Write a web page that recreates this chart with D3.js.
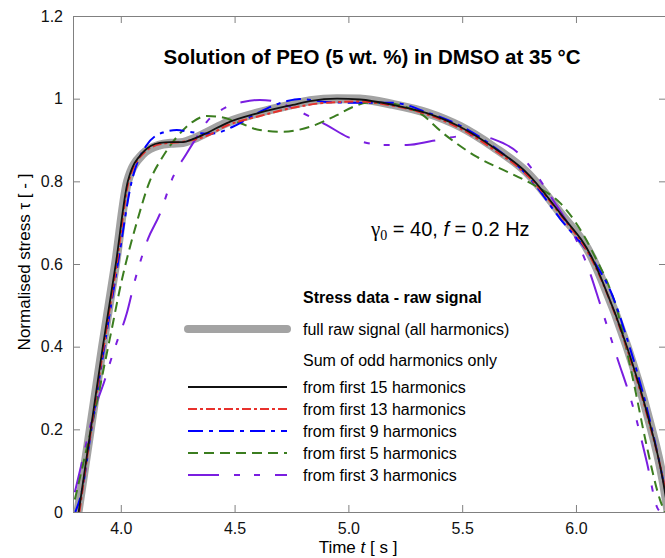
<!DOCTYPE html>
<html>
<head>
<meta charset="utf-8">
<script src="https://cdn.jsdelivr.net/npm/d3@7"></script>
<style>
  body { margin: 0; background: #fff; }
  text { font-family: "Liberation Sans", Arial, sans-serif; }
</style>
</head>
<body>
<svg id="chart" width="665" height="558"></svg>
<script>
// values (time t [s], normalised stress)
const xTicks = [4.0, 4.5, 5.0, 5.5, 6.0]
const yTicks = [0, 0.2, 0.4, 0.6, 0.8, 1, 1.2]

const rawT = [3.812, 3.866, 3.92, 3.977, 4.03, 4.097, 4.171, 4.22, 4.273, 4.316, 4.378, 4.466, 4.611, 4.756, 4.831, 4.95, 5.05, 5.196, 5.345, 5.49, 5.635, 5.785, 5.93, 6.075, 6.114, 6.224, 6.312, 6.382, 6.405]
const rawY = [0, 0.2, 0.4, 0.6, 0.8, 0.866, 0.888, 0.892, 0.894, 0.902, 0.918, 0.942, 0.967, 0.986, 0.995, 1.0, 0.999, 0.986, 0.966, 0.933, 0.884, 0.821, 0.724, 0.611, 0.562, 0.401, 0.241, 0.078, 0]

const h15T = [3.815, 3.868, 3.921, 3.978, 4.031, 4.097, 4.171, 4.22, 4.273, 4.316, 4.378, 4.466, 4.611, 4.756, 4.831, 4.95, 5.05, 5.196, 5.345, 5.49, 5.635, 5.785, 5.93, 6.075, 6.114, 6.224, 6.312, 6.382, 6.405]
const h15Y = [0, 0.2, 0.4, 0.6, 0.8, 0.87, 0.893, 0.895, 0.895, 0.902, 0.917, 0.941, 0.966, 0.985, 0.994, 1.0, 0.998, 0.985, 0.965, 0.932, 0.883, 0.82, 0.723, 0.61, 0.561, 0.4, 0.24, 0.077, 0]

const h13T = [3.818, 3.87, 3.925, 3.982, 4.035, 4.1, 4.175, 4.273, 4.378, 4.466, 4.611, 4.756, 4.9, 5.05, 5.196, 5.345, 5.49, 5.635, 5.785, 5.93, 6.075, 6.224, 6.312, 6.39, 6.41]
const h13Y = [0, 0.2, 0.4, 0.6, 0.8, 0.868, 0.89, 0.896, 0.91, 0.935, 0.958, 0.978, 0.99, 0.993, 0.983, 0.962, 0.928, 0.878, 0.815, 0.72, 0.605, 0.395, 0.235, 0.06, 0]

const h9T = [3.8, 3.829, 3.868, 3.925, 3.987, 4.048, 4.11, 4.185, 4.246, 4.3, 4.378, 4.422, 4.492, 4.611, 4.73, 4.787, 4.905, 5.051, 5.196, 5.345, 5.49, 5.635, 5.785, 5.93, 6.075, 6.163, 6.224, 6.312, 6.382, 6.41]
const h9Y = [0, 0.05, 0.19, 0.39, 0.6, 0.8, 0.885, 0.918, 0.924, 0.92, 0.915, 0.917, 0.932, 0.968, 0.994, 0.999, 0.992, 0.99, 0.99, 0.967, 0.935, 0.885, 0.815, 0.71, 0.61, 0.52, 0.42, 0.25, 0.08, 0]

const h5T = [3.798, 3.877, 3.952, 4.004, 4.07, 4.127, 4.185, 4.246, 4.316, 4.378, 4.435, 4.523, 4.611, 4.712, 4.831, 4.949, 5.02, 5.08, 5.15, 5.25, 5.314, 5.415, 5.565, 5.71, 5.829, 5.93, 6.075, 6.185, 6.251, 6.312, 6.369, 6.39]
const h5Y = [0.03, 0.22, 0.42, 0.56, 0.7, 0.8, 0.86, 0.907, 0.944, 0.958, 0.956, 0.941, 0.924, 0.92, 0.932, 0.96, 0.98, 0.99, 0.99, 0.98, 0.965, 0.917, 0.859, 0.82, 0.787, 0.748, 0.627, 0.48, 0.32, 0.157, 0.03, 0]

const h3T = [3.798, 3.829, 3.886, 3.93, 3.952, 3.982, 4.026, 4.062, 4.119, 4.171, 4.229, 4.29, 4.334, 4.378, 4.448, 4.536, 4.611, 4.686, 4.8, 4.905, 4.998, 5.064, 5.152, 5.257, 5.371, 5.5, 5.58, 5.622, 5.741, 5.811, 5.899, 5.987, 6.062, 6.105, 6.18, 6.251, 6.312, 6.356, 6.37]
const h3Y = [0.048, 0.12, 0.25, 0.32, 0.36, 0.41, 0.48, 0.56, 0.66, 0.72, 0.81, 0.868, 0.907, 0.944, 0.975, 0.992, 0.997, 0.992, 0.965, 0.936, 0.907, 0.895, 0.888, 0.888, 0.898, 0.91, 0.912, 0.905, 0.871, 0.827, 0.755, 0.675, 0.578, 0.505, 0.375, 0.254, 0.119, 0.012, 0]

const series = [
  { name: "full raw signal (all harmonics)", t: rawT, y: rawY, color: "#a3a3a3", width: 9, dash: null },
  { name: "from first 3 harmonics", t: h3T, y: h3Y, color: "#7a1ee0", width: 2, dash: "31,15,6,14,6,15" },
  { name: "from first 5 harmonics", t: h5T, y: h5Y, color: "#3b7d1f", width: 2, dash: "10,6" },
  { name: "from first 9 harmonics", t: h9T, y: h9Y, color: "#0000ff", width: 2, dash: "15,6,4,6" },
  { name: "from first 13 harmonics", t: h13T, y: h13Y, color: "#e8312c", width: 2, dash: "9,3,3,3" },
  { name: "from first 15 harmonics", t: h15T, y: h15Y, color: "#111111", width: 1.8, dash: null }
]

const svg = d3.select("#chart")
const plotL = 73, plotR = 667, plotT = 16, plotB = 512

const x = d3.scaleLinear().domain([3.79, 6.4]).range([plotL, plotR])
const y = d3.scaleLinear().domain([0, 1.2]).range([plotB, plotT])

const axisColor = "#808080"

// frame with inward ticks on all sides
svg.append("g").attr("transform", "translate(0," + plotB + ")")
  .call(d3.axisBottom(x).tickValues(xTicks).tickSizeInner(-7).tickSizeOuter(0).tickPadding(11).tickFormat(d3.format(".1f")))
svg.append("g").attr("transform", "translate(0," + plotT + ")")
  .call(d3.axisTop(x).tickValues(xTicks).tickSizeInner(-7).tickSizeOuter(0).tickFormat(""))
svg.append("g").attr("transform", "translate(" + plotL + ",0)")
  .call(d3.axisLeft(y).tickValues(yTicks).tickSizeInner(-7).tickSizeOuter(0).tickPadding(10).tickFormat(d => d === 0 || d === 1 ? d : d3.format(".1f")(d)))
svg.append("g").attr("transform", "translate(" + (plotR - 1) + ",0)")
  .call(d3.axisRight(y).tickValues(yTicks).tickSizeInner(-7).tickSizeOuter(0).tickFormat(""))

svg.selectAll(".domain").attr("stroke", axisColor)
svg.selectAll(".tick line").attr("stroke", axisColor)
svg.selectAll(".tick text").attr("fill", "#111").style("font-size", "16px")

svg.append("defs").append("clipPath").attr("id", "plotclip")
  .append("rect").attr("x", plotL).attr("y", plotT).attr("width", plotR - plotL).attr("height", plotB - plotT)

const line = d3.line()
  .x(d => x(d[0]))
  .y(d => y(d[1]))
  .curve(d3.curveMonotoneX)

const plot = svg.append("g").attr("clip-path", "url(#plotclip)")

plot.selectAll("path.curve")
  .data(series)
  .enter()
  .append("path")
  .attr("class", "curve")
  .attr("d", s => line(s.t.map((t, i) => [t, s.y[i]])))
  .attr("fill", "none")
  .attr("stroke", s => s.color)
  .attr("stroke-width", s => s.width)
  .attr("stroke-linecap", s => s.width > 5 ? "round" : "butt")
  .attr("stroke-dasharray", s => s.dash)

// title
svg.append("text")
  .attr("x", 372).attr("y", 64)
  .attr("text-anchor", "middle")
  .style("font-size", "20.5px").style("font-weight", "bold")
  .text("Solution of PEO (5 wt. %) in DMSO at 35 °C")

// conditions
let cond = svg.append("text").attr("x", 371).attr("y", 236).style("font-size", "20px")
cond.append("tspan").style("font-family", "'Liberation Serif', 'Times New Roman', serif").style("font-size", "21px").text("γ")
cond.append("tspan").style("font-family", "'Liberation Serif', 'Times New Roman', serif").style("font-size", "14px").attr("dy", 4).text("0")
cond.append("tspan").attr("dy", -4).text(" = 40, ")
cond.append("tspan").style("font-style", "italic").text("f")
cond.append("tspan").text(" = 0.2 Hz")

// axis titles
let xt = svg.append("text").attr("x", 358).attr("y", 553).attr("text-anchor", "middle").style("font-size", "17px")
xt.append("tspan").text("Time ")
xt.append("tspan").style("font-style", "italic").text("t")
xt.append("tspan").text(" [ s ]")

svg.append("text")
  .attr("transform", "translate(30,262) rotate(-90)")
  .attr("text-anchor", "middle")
  .style("font-size", "17px")
  .text("Normalised stress τ [ - ]")

// legend
const lgX1 = 188, lgX2 = 287, lgText = 303, lgFont = "16px"
svg.append("text").attr("x", lgText).attr("y", 303).style("font-size", lgFont).style("font-weight", "bold")
  .text("Stress data - raw signal")

svg.append("line").attr("x1", lgX1).attr("x2", lgX2).attr("y1", 329).attr("y2", 329)
  .attr("stroke", series[0].color).attr("stroke-width", 8).attr("stroke-linecap", "round")
svg.append("text").attr("x", lgText).attr("y", 335).style("font-size", lgFont).text(series[0].name)

svg.append("text").attr("x", lgText).attr("y", 366).style("font-size", lgFont).text("Sum of odd harmonics only")

const legendRows = series.slice(1).reverse()
const lg = svg.selectAll("g.lg").data(legendRows).enter().append("g")
  .attr("class", "lg")
  .attr("transform", (d, i) => "translate(0," + (387 + i * 22) + ")")
lg.append("line").attr("x1", lgX1).attr("x2", lgX2)
  .attr("stroke", d => d.color).attr("stroke-width", 2).attr("stroke-dasharray", d => d.dash)
lg.append("text").attr("x", lgText).attr("y", 6).style("font-size", lgFont).text(d => d.name)
</script>
</body>
</html>
